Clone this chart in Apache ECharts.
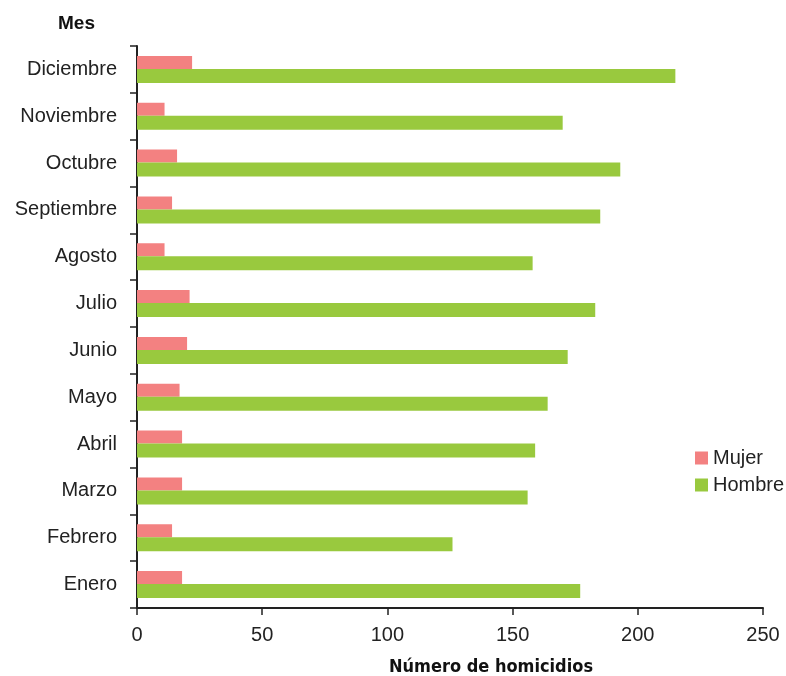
<!DOCTYPE html>
<html>
<head>
<meta charset="utf-8">
<script src="https://cdn.jsdelivr.net/npm/echarts@6/dist/echarts.min.js"></script>
<style>
  html, body { margin: 0; padding: 0; background: #fff; }
  #chart { width: 786px; height: 676px; }
</style>
</head>
<body>
<div id="chart"></div>
<script>
// meses, de abajo hacia arriba
var meses = ['Enero', 'Febrero', 'Marzo', 'Abril', 'Mayo', 'Junio', 'Julio',
  'Agosto', 'Septiembre', 'Octubre', 'Noviembre', 'Diciembre'];
var mujer = [18, 14, 18, 18, 17, 20, 21, 11, 14, 16, 11, 22];
var hombre = [177, 126, 156, 159, 164, 172, 183, 158, 185, 193, 170, 215];
var xTicks = [0, 50, 100, 150, 200, 250];

var baseFont = "'Liberation Sans', Arial, sans-serif";
var axisColor = '#222';

var chart = echarts.init(document.getElementById('chart'));
chart.setOption({
  animation: false,
  title: {
    text: 'Mes',
    left: 53,
    top: 9,
    textStyle: { fontFamily: baseFont, fontSize: 19, fontWeight: 'bold', color: '#111' }
  },
  legend: {
    orient: 'vertical',
    left: 695,
    top: 448,
    padding: 0,
    itemWidth: 13,
    itemHeight: 13,
    itemGap: 7,
    icon: 'rect',
    textStyle: { fontFamily: baseFont, fontSize: 20, color: '#222', lineHeight: 20 },
    data: ['Mujer', 'Hombre']
  },
  grid: { left: 137, right: 23, top: 46, bottom: 68, outerBoundsMode: 'none', containLabel: false },
  xAxis: {
    type: 'value',
    min: xTicks[0],
    max: xTicks[xTicks.length - 1],
    interval: 50,
    name: 'Número de homicidios',
    nameLocation: 'middle',
    nameGap: 50,
    nameTextStyle: {
      fontFamily: "'Liberation Sans Narrow', 'DejaVu Sans Condensed', sans-serif",
      fontSize: 18, fontWeight: 'bold', color: '#111',
      padding: [0, 0, 0, 82]
    },
    axisLine: { show: true, lineStyle: { color: axisColor, width: 2 } },
    axisTick: { show: true, length: 7, lineStyle: { color: axisColor, width: 1.5 } },
    axisLabel: { margin: 17, fontFamily: baseFont, fontSize: 20, color: '#222' },
    splitLine: { show: false }
  },
  yAxis: {
    type: 'category',
    data: meses,
    axisLine: { show: true, lineStyle: { color: axisColor, width: 2 } },
    axisTick: { show: true, length: 7, lineStyle: { color: axisColor, width: 1.5 } },
    axisLabel: { margin: 20, fontFamily: baseFont, fontSize: 20, color: '#222' }
  },
  series: [
    {
      name: 'Mujer',
      type: 'bar',
      data: mujer,
      barWidth: 13,
      barGap: '0%',
      itemStyle: { color: '#f38181' }
    },
    {
      name: 'Hombre',
      type: 'bar',
      data: hombre,
      barWidth: 14,
      barGap: '0%',
      itemStyle: { color: '#99c93e' }
    }
  ]
});
</script>
</body>
</html>
